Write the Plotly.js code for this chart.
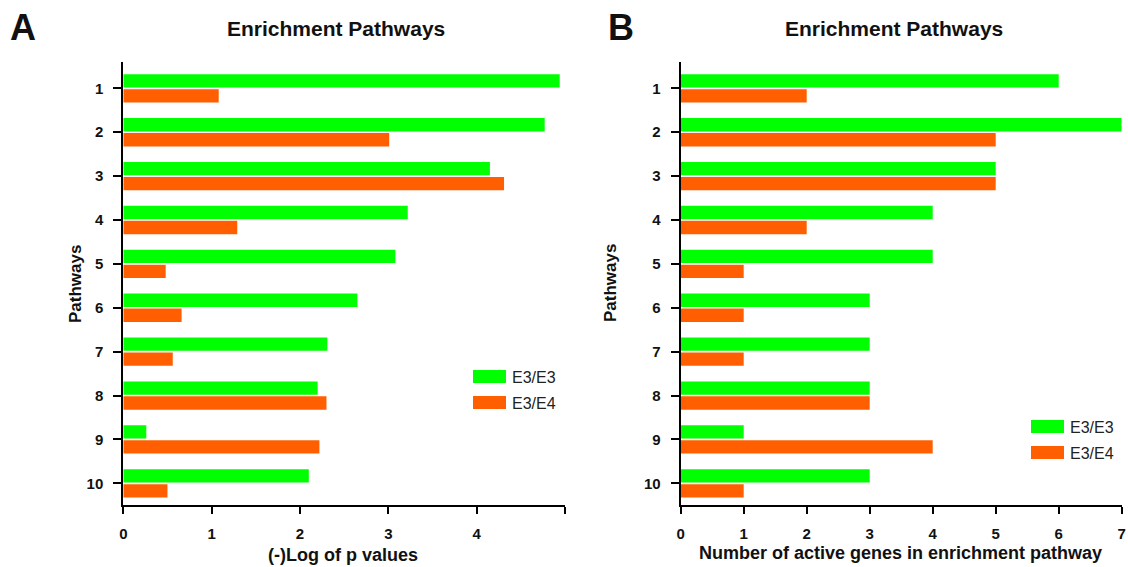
<!DOCTYPE html>
<html>
<head>
<meta charset="utf-8">
<script src="https://cdn.plot.ly/plotly-3.0.1.min.js"></script>
<style>
  html, body { margin: 0; padding: 0; background: #fff; }
  #chart { width: 1128px; height: 567px; }
</style>
</head>
<body>
<div id="chart"></div>
<script>
// ---- data ----
const pathways = [1, 2, 3, 4, 5, 6, 7, 8, 9, 10];
const seriesNames = ["E3/E3", "E3/E4"];
// Panel A: (-)Log of p values
const logP_E3E3 = [4.94, 4.77, 4.15, 3.22, 3.08, 2.65, 2.31, 2.20, 0.26, 2.10];
const logP_E3E4 = [1.08, 3.01, 4.31, 1.29, 0.48, 0.66, 0.56, 2.30, 2.22, 0.50];
// Panel B: number of active genes in enrichment pathway
const genes_E3E3 = [6, 7, 5, 4, 4, 3, 3, 3, 1, 3];
const genes_E3E4 = [2, 5, 5, 2, 1, 1, 1, 3, 4, 1];
// tick labels
const xTicksA = [0, 1, 2, 3, 4, 5];
const xTickTextA = ["0", "1", "2", "3", "4", ""];
const xTicksB = [0, 1, 2, 3, 4, 5, 6, 7];
const yTickText = pathways.map(String);
const panelTitle = "Enrichment Pathways";
const xTitleA = "(-)Log of p values";
const xTitleB = "Number of active genes in enrichment pathway";
const yTitle = "Pathways";

const GREEN = "#00FF00";
const ORANGE = "#FF5F00";
const FONT = "Liberation Sans, Arial, sans-serif";
const W = 1128, H = 567;

function bar(x, name, color, xa, ya) {
  return {
    type: "bar", orientation: "h", x: x, y: pathways, name: name,
    marker: { color: color, line: { width: 0 } },
    xaxis: xa, yaxis: ya, showlegend: false, hoverinfo: "x+y+name"
  };
}

const data = [
  bar(logP_E3E3, seriesNames[0], GREEN, "x", "y"),
  bar(logP_E3E4, seriesNames[1], ORANGE, "x", "y"),
  bar(genes_E3E3, seriesNames[0], GREEN, "x2", "y2"),
  bar(genes_E3E4, seriesNames[1], ORANGE, "x2", "y2")
];

const yDom = [1 - 505 / H, 1 - 62 / H];
const xDomA = [123.3 / W, 565 / W];
const xDomB = [680.7 / W, 1121.7 / W];

function xaxis(dom, range, tv, tt, anchor) {
  return {
    domain: dom, range: range, anchor: anchor,
    tickvals: tv, ticktext: tt,
    showline: true, linecolor: "#000", linewidth: 2,
    ticks: "outside", ticklen: 7, tickwidth: 2, tickcolor: "#000",
    ticklabelstandoff: 7,
    showgrid: false, zeroline: false, fixedrange: true, automargin: false,
    tickfont: { family: FONT, size: 15, color: "#111", weight: "bold" }
  };
}
function yaxis(anchor) {
  return {
    domain: yDom, range: [10.494, 0.4], anchor: anchor,
    tickvals: pathways, ticktext: yTickText,
    showline: true, linecolor: "#000", linewidth: 2,
    ticks: "outside", ticklen: 8, tickwidth: 2, tickcolor: "#000",
    ticklabelstandoff: 7,
    showgrid: false, zeroline: false, fixedrange: true, automargin: false,
    tickfont: { family: FONT, size: 15, color: "#111", weight: "bold" }
  };
}

function ann(text, xpx, ypx, size, bold, rot) {
  return {
    xref: "paper", yref: "paper", x: xpx / W, y: 1 - ypx / H,
    xanchor: "center", yanchor: "middle", showarrow: false,
    text: bold ? "<b>" + text + "</b>" : text, textangle: rot || 0,
    font: { family: FONT, size: size, color: "#111" }
  };
}

// legend drawn as swatches + labels (paper coordinates)
function legend(x0, yTop) {
  const shapes = [], anns = [];
  [GREEN, ORANGE].forEach((c, i) => {
    const y0 = yTop + i * 26;
    shapes.push({ type: "rect", xref: "paper", yref: "paper",
      x0: x0 / W, x1: (x0 + 33) / W, y0: 1 - y0 / H, y1: 1 - (y0 + 13) / H,
      fillcolor: c, line: { width: 0 } });
    anns.push({ xref: "paper", yref: "paper", x: (x0 + 37) / W, y: 1 - (y0 + 7) / H,
      xanchor: "left", yanchor: "middle", showarrow: false, text: seriesNames[i],
      font: { family: FONT, size: 16, color: "#222" } });
  });
  return { shapes, anns };
}
const legA = legend(473, 370);
const legB = legend(1031, 420);

const layout = {
  width: W, height: H,
  margin: { l: 0, r: 0, t: 0, b: 0 },
  paper_bgcolor: "#fff", plot_bgcolor: "#fff",
  barmode: "group", bargap: 0.317, bargroupgap: 0.11,
  showlegend: false,
  xaxis: xaxis(xDomA, [0, 5], xTicksA, xTickTextA, "y"),
  yaxis: yaxis("x"),
  xaxis2: xaxis(xDomB, [0, 7], xTicksB, xTicksB.map(String), "y2"),
  yaxis2: yaxis("x2"),
  shapes: legA.shapes.concat(legB.shapes),
  annotations: [
    ann("A", 23, 27, 36, true),
    ann("B", 621, 27, 36, true),
    ann(panelTitle, 336, 28, 21, true),
    ann(panelTitle, 894, 28, 21, true),
    ann(xTitleA, 343, 555, 18, true),
    ann(xTitleB, 900, 553, 18, true),
    ann(yTitle, 75, 284, 17, true, -90),
    ann(yTitle, 610, 283, 17, true, -90)
  ].concat(legA.anns, legB.anns)
};

Plotly.newPlot("chart", data, layout, { displayModeBar: false, staticPlot: true });
</script>
</body>
</html>
